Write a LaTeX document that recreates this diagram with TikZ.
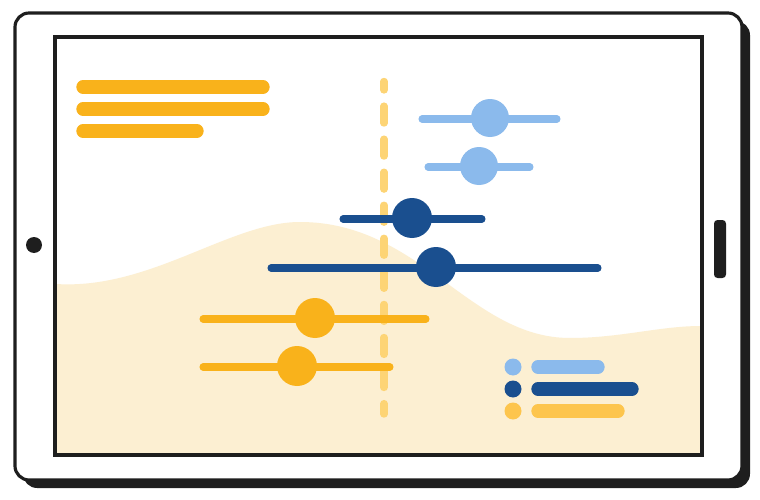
\documentclass[tikz,border=0pt]{standalone}
\begin{document}
\begin{tikzpicture}[x=0.01cm,y=-0.01cm,line cap=round]
\definecolor{ink}{HTML}{1E1E1E}
\definecolor{beige}{HTML}{FCEFD2}
\definecolor{gold}{HTML}{F9B21B}
\definecolor{paleg}{HTML}{FDD475}
\definecolor{legy}{HTML}{FDC54D}
\definecolor{lblue}{HTML}{8BBAEC}
\definecolor{dblue}{HTML}{1A4F8F}
\tikzset{bar/.style={line width=3.8pt},slide/.style={line width=2pt}}
\useasboundingbox (0,0) rectangle (760,500);
% tablet
\fill[ink,rounded corners=4pt] (23,21) rectangle (750,488);
\draw[ink,fill=white,line width=0.9pt,rounded corners=4pt] (15,13) rectangle (742,480);
\fill[white] (55,37) rectangle (702,455);
\fill[beige] (56,284) .. controls (150,290) and (230,222) .. (300,222)
  .. controls (420,222) and (470,338) .. (570,338)
  .. controls (620,338) and (660,326) .. (701,326) -- (701,454) -- (56,454) -- cycle;
\draw[ink,line width=0.9pt] (55,37) rectangle (702,455);
\fill[ink] (34,245) circle (8);
\fill[ink,rounded corners=1pt] (714,220) rectangle (726,278);
% top-left bars
\draw[gold,bar] (83,87) -- (263,87);
\draw[gold,bar] (83,109) -- (263,109);
\draw[gold,bar] (83,131) -- (197,131);
% dashed line
\draw[paleg,line width=2.1pt,dash pattern=on 4.8pt off 4.6pt,dash phase=2.4pt] (384,81.5) -- (384,414);
% sliders
\draw[lblue,slide] (422,119) -- (557,119); \fill[lblue] (490,118) circle (19);
\draw[lblue,slide] (428,167) -- (530,167); \fill[lblue] (479,166) circle (19);
\draw[dblue,slide] (343,219) -- (482,219); \fill[dblue] (412,218) circle (20);
\draw[dblue,slide] (271,268) -- (598,268); \fill[dblue] (436,267) circle (20);
\draw[gold,slide] (203,319) -- (426,319); \fill[gold] (315,318) circle (20);
\draw[gold,slide] (203,367) -- (390,367); \fill[gold] (297,366) circle (20);
% legend
\fill[lblue] (513,367) circle (8.5); \draw[lblue,bar] (538,367) -- (598,367);
\fill[dblue] (513,389) circle (8.5); \draw[dblue,bar] (538,389) -- (632,389);
\fill[legy] (513,411) circle (8.5); \draw[legy,bar] (538,411) -- (618,411);
\end{tikzpicture}
\end{document}
